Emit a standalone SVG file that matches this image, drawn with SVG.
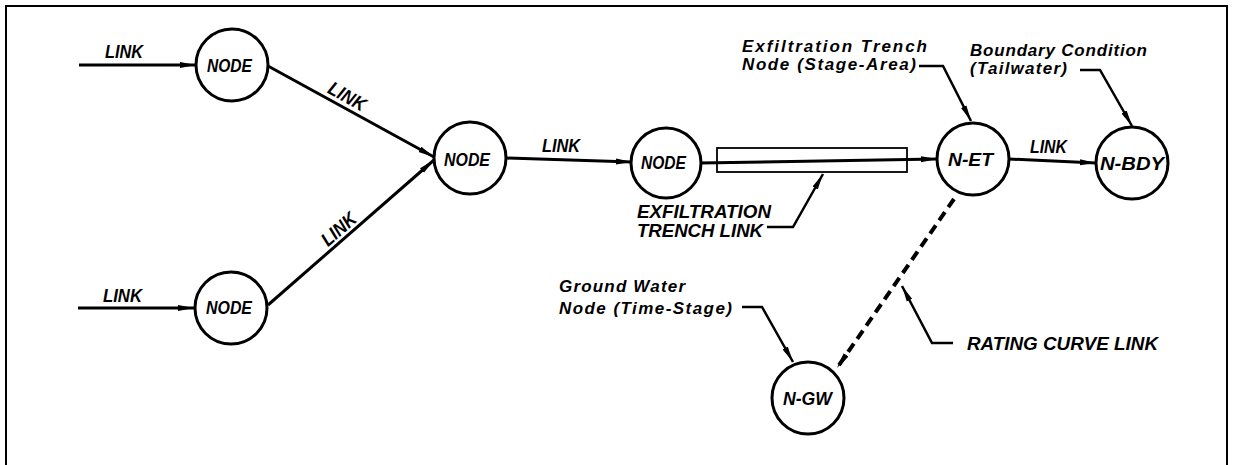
<svg xmlns="http://www.w3.org/2000/svg" width="1233" height="465" viewBox="0 0 1233 465">
<style>
.frame{fill:none;stroke:#000;stroke-width:2}
.node{fill:#fff;stroke:#000;stroke-width:3}
.lnk{fill:none;stroke:#000;stroke-width:3}
.dash{fill:none;stroke:#000;stroke-width:4;stroke-dasharray:10 6}
.lead{fill:none;stroke:#000;stroke-width:2.5}
.trench{fill:none;stroke:#000;stroke-width:1.8}
text{font-family:"Liberation Sans",Arial,sans-serif;font-weight:bold;font-style:italic;fill:#000}
.lbl{font-size:19px}
.ann{font-size:17px}
</style>
<defs>
<marker id="ah" markerUnits="userSpaceOnUse" markerWidth="16" markerHeight="8" refX="16" refY="4" orient="auto">
<path d="M0,1 L16,4 L0,7 z" fill="#000"/>
</marker>
</defs>
<path class="frame" d="M6,465 V6 H1227 V465"/>
<g id="connectors">
<line class="lnk" x1="79" y1="65" x2="196" y2="65" marker-end="url(#ah)"/>
<line class="lnk" x1="78" y1="308" x2="194" y2="308" marker-end="url(#ah)"/>
<line class="lnk" x1="268" y1="66" x2="434" y2="157" marker-end="url(#ah)"/>
<line class="lnk" x1="268" y1="305" x2="434" y2="160" marker-end="url(#ah)"/>
<line class="lnk" x1="506" y1="158" x2="632" y2="162" marker-end="url(#ah)"/>
<line class="lnk" x1="700" y1="163" x2="937" y2="159" marker-end="url(#ah)"/>
<line class="lnk" x1="1009" y1="159" x2="1096" y2="163" marker-end="url(#ah)"/>
<line class="dash" x1="954" y1="199" x2="837" y2="368" marker-end="url(#ah)"/>
<rect class="trench" x="717" y="148" width="190" height="24"/>
<path class="lead" d="M919,66 H943 L971,121" marker-end="url(#ah)"/>
<path class="lead" d="M1080,70 H1100 L1132,126" marker-end="url(#ah)"/>
<path class="lead" d="M767,227 H793 L823,174" marker-end="url(#ah)"/>
<path class="lead" d="M742,307 H762 L793,362" marker-end="url(#ah)"/>
<path class="lead" d="M953,343 H932 L902,286" marker-end="url(#ah)"/>
<text class="lbl" x="105" y="58" textLength="38" lengthAdjust="spacingAndGlyphs">LINK</text>
<text class="lbl" x="103" y="302" textLength="39" lengthAdjust="spacingAndGlyphs">LINK</text>
<text class="lbl" transform="translate(344,102) rotate(29.3)" text-anchor="middle" textLength="40" lengthAdjust="spacingAndGlyphs">LINK</text>
<text class="lbl" transform="translate(343,234) rotate(-41.5)" text-anchor="middle" textLength="40" lengthAdjust="spacingAndGlyphs">LINK</text>
<text class="lbl" x="542" y="152" textLength="38" lengthAdjust="spacingAndGlyphs">LINK</text>
<text class="lbl" x="1030" y="153" textLength="37" lengthAdjust="spacingAndGlyphs">LINK</text>
<text class="lbl" x="637" y="218" textLength="134" lengthAdjust="spacingAndGlyphs">EXFILTRATION</text>
<text class="lbl" x="637" y="237" textLength="126" lengthAdjust="spacingAndGlyphs">TRENCH LINK</text>
<text class="lbl" x="967" y="350" textLength="191" lengthAdjust="spacingAndGlyphs">RATING CURVE LINK</text>
<text class="ann" x="742" y="52" textLength="185" lengthAdjust="spacing">Exfiltration Trench</text>
<text class="ann" x="742" y="70" textLength="174" lengthAdjust="spacing">Node (Stage-Area)</text>
<text class="ann" x="970" y="56" textLength="177" lengthAdjust="spacing">Boundary Condition</text>
<text class="ann" x="970" y="74" textLength="97" lengthAdjust="spacing">(Tailwater)</text>
<text class="ann" x="559" y="292" textLength="126" lengthAdjust="spacing">Ground Water</text>
<text class="ann" x="559" y="314" textLength="173" lengthAdjust="spacing">Node (Time-Stage)</text>
</g>
<g id="node1"><circle class="node" cx="232" cy="65" r="36"/><text class="lbl" x="207" y="72" textLength="45" lengthAdjust="spacingAndGlyphs">NODE</text></g>
<g id="node2"><circle class="node" cx="231" cy="308" r="36"/><text class="lbl" x="206" y="314" textLength="46" lengthAdjust="spacingAndGlyphs">NODE</text></g>
<g id="node3"><circle class="node" cx="470" cy="158" r="36"/><text class="lbl" x="444" y="166" textLength="46" lengthAdjust="spacingAndGlyphs">NODE</text></g>
<g id="node4"><circle class="node" cx="666" cy="163" r="35"/><text class="lbl" x="641" y="169" textLength="45" lengthAdjust="spacingAndGlyphs">NODE</text></g>
<g id="n-et"><circle class="node" cx="973" cy="159" r="36"/><text class="lbl" x="948" y="166" textLength="45" lengthAdjust="spacingAndGlyphs">N-ET</text></g>
<g id="n-bdy"><circle class="node" cx="1132" cy="163" r="36"/><text class="lbl" x="1100" y="170" textLength="64" lengthAdjust="spacingAndGlyphs">N-BDY</text></g>
<g id="n-gw"><circle class="node" cx="808" cy="398" r="36"/><text class="lbl" x="783" y="405" textLength="49" lengthAdjust="spacingAndGlyphs">N-GW</text></g>
</svg>
